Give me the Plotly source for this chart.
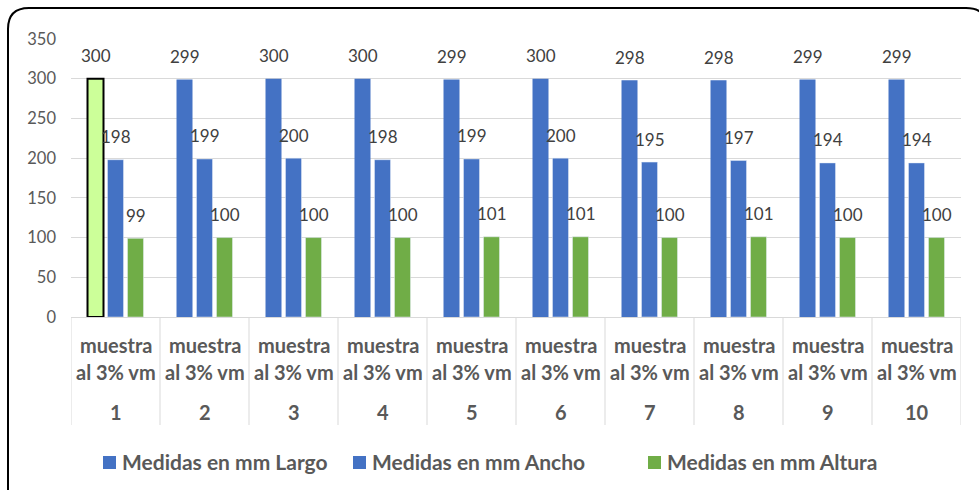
import plotly.graph_objects as go

# Measurements per sample (mm)
muestras = ["1", "2", "3", "4", "5", "6", "7", "8", "9", "10"]
etiqueta_l1 = "muestra"
etiqueta_l2 = "al 3% vm"
largo = [300, 299, 300, 300, 299, 300, 298, 298, 299, 299]
ancho = [198, 199, 200, 198, 199, 200, 195, 197, 194, 194]
altura = [99, 100, 100, 100, 101, 101, 100, 101, 100, 100]
series_nombres = ["Medidas en mm Largo", "Medidas en mm Ancho", "Medidas en mm Altura"]
y_ticks = [0, 50, 100, 150, 200, 250, 300, 350]

BLUE = "#4472C4"
GREEN = "#70AD47"
HIGHLIGHT = "#CCFF99"
GRID = "#D9D9D9"
TXT = "#595959"
FONT = "Lato"

W, H = 979, 490
ML, MR, MT, MB = 71, 18, 39, 173
PW, PH = W - ML - MR, H - MT - MB


def px_x(p):
    return (p - ML) / PW


def px_y(p):
    return (H - MB - p) / PH


x = list(range(len(muestras)))
n = len(muestras)

fig = go.Figure()
fig.add_trace(go.Bar(
    x=x, y=largo, name=series_nombres[0],
    marker=dict(color=[HIGHLIGHT] + [BLUE] * (n - 1),
                line=dict(color=["#000000"] + [BLUE] * (n - 1),
                          width=[2] + [0] * (n - 1))),
))
fig.add_trace(go.Bar(x=x, y=ancho, name=series_nombres[1], marker=dict(color=BLUE)))
fig.add_trace(go.Bar(x=x, y=altura, name=series_nombres[2], marker=dict(color=GREEN)))

annotations = []
# value labels above each bar
for vals, shift in ((largo, -20), (ancho, 0), (altura, 20)):
    for i, v in enumerate(vals):
        annotations.append(dict(
            x=i, y=v, xref="x", yref="y", text=str(v), showarrow=False,
            xshift=shift, yshift=23, yanchor="middle",
            font=dict(family=FONT, size=17, color="#404040"),
        ))

# two-level category labels
for i, m in enumerate(muestras):
    for txt, py in ((etiqueta_l1, 345), (etiqueta_l2, 372), (m, 412)):
        annotations.append(dict(
            x=i, y=px_y(py), xref="x", yref="paper", text="<b>%s</b>" % txt,
            showarrow=False, yanchor="middle",
            font=dict(family=FONT, size=20, color=TXT),
        ))

shapes = []
# category separators below the axis
for i in range(n + 1):
    shapes.append(dict(type="line", xref="x", yref="paper",
                       x0=i - 0.5, x1=i - 0.5, y0=0, y1=px_y(425),
                       line=dict(color=GRID, width=1)))

# legend drawn as swatches + labels
legend_pos = [103, 353, 648]
legend_cols = [BLUE, BLUE, GREEN]
for name, col, lx in zip(series_nombres, legend_cols, legend_pos):
    shapes.append(dict(type="rect", xref="paper", yref="paper",
                       x0=px_x(lx), x1=px_x(lx + 13), y0=px_y(469), y1=px_y(456),
                       fillcolor=col, line=dict(width=0)))
    annotations.append(dict(x=px_x(lx + 17), y=px_y(462), xref="paper", yref="paper",
                            text="<b>%s</b>" % name, showarrow=False,
                            xanchor="left", yanchor="middle",
                            font=dict(family=FONT, size=21, color=TXT)))

# rounded chart frame
l, t, r, b, rad = 8, 8, 987, 500, 21
path = (f"M {px_x(l)},{px_y(b)} L {px_x(l)},{px_y(t + rad)} "
        f"Q {px_x(l)},{px_y(t)} {px_x(l + rad)},{px_y(t)} "
        f"L {px_x(r - rad)},{px_y(t)} Q {px_x(r)},{px_y(t)} {px_x(r)},{px_y(t + rad)} "
        f"L {px_x(r)},{px_y(b)}")
shapes.append(dict(type="path", xref="paper", yref="paper", path=path,
                   line=dict(color="#000000", width=2)))

fig.update_layout(
    width=W, height=H,
    margin=dict(l=ML, r=MR, t=MT, b=MB),
    paper_bgcolor="white", plot_bgcolor="white",
    barmode="group", bargap=0.326, bargroupgap=0.2,
    showlegend=False,
    annotations=annotations, shapes=shapes,
    xaxis=dict(range=[-0.5, n - 0.5], showticklabels=False, showgrid=False,
               zeroline=False, showline=True, linecolor=GRID, linewidth=1, ticks=""),
    yaxis=dict(range=[0, 350], tickvals=y_ticks, showgrid=True, gridcolor=GRID,
               gridwidth=1, zeroline=False, showline=False, ticks="",
               ticklabelstandoff=14,
               tickfont=dict(family=FONT, size=16.5, color=TXT)),
)

fig.write_html("out.html")
